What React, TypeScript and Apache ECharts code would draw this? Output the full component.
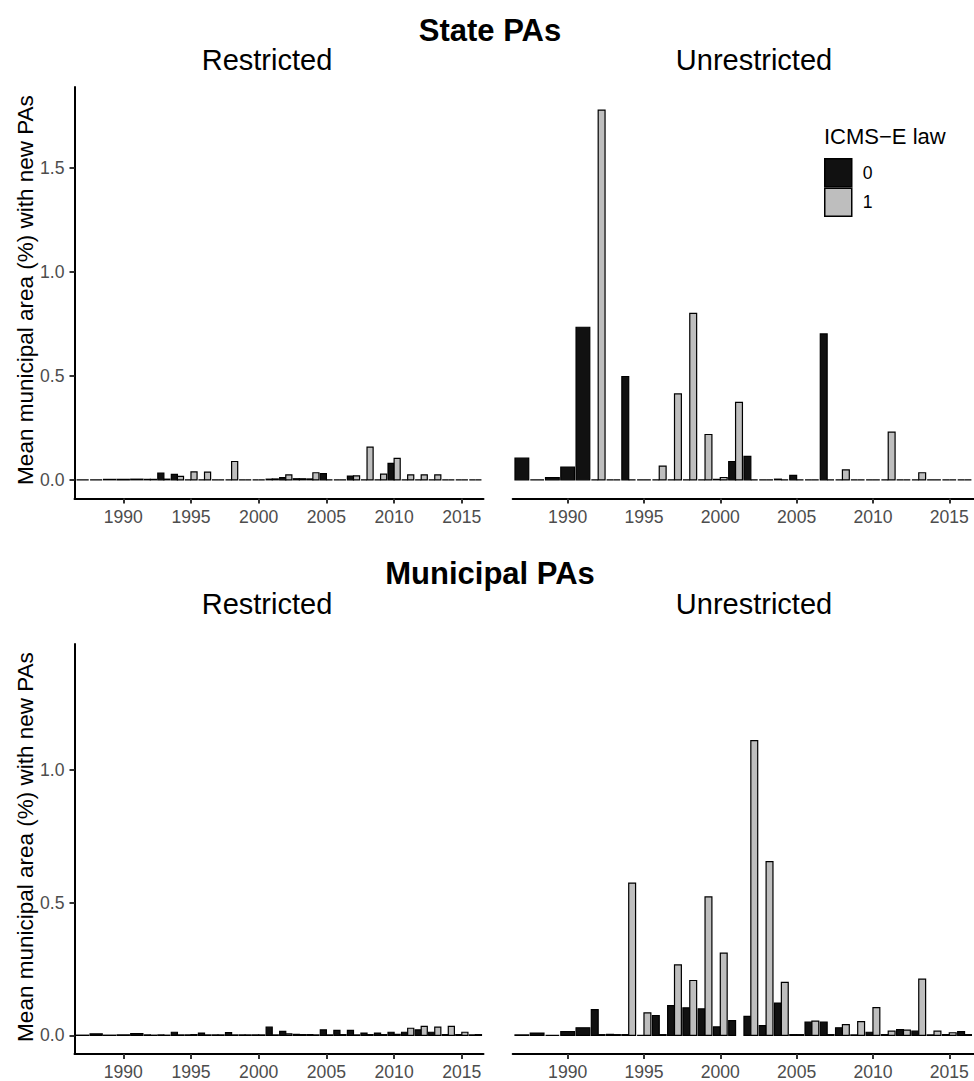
import React, { useEffect, useRef } from "react";
import * as echarts from "echarts";

// ---------- data ----------
const years = [
  1987, 1988, 1989, 1990, 1991, 1992, 1993, 1994, 1995, 1996,
  1997, 1998, 1999, 2000, 2001, 2002, 2003, 2004, 2005, 2006,
  2007, 2008, 2009, 2010, 2011, 2012, 2013, 2014, 2015, 2016,
];
// ICMS-E law group "1" only exists from this year on
const lawStartYear = 1992;

// State PAs – Restricted (group 0: 1987–2016, group 1: 1992–2016)
const stateRestricted0 = [
  0, 0, 0.002, 0.002, 0.003, 0.002, 0.032, 0.026, 0, 0,
  0, 0, 0, 0, 0.003, 0.01, 0.005, 0.004, 0.03, 0,
  0.018, 0, 0, 0.079, 0, 0, 0, 0, 0, 0,
];
const stateRestricted1 = [
  0.002, 0.003, 0.016, 0.038, 0.037, 0, 0.088, 0, 0, 0.004,
  0.024, 0.005, 0.034, 0, 0, 0.019, 0.157, 0.027, 0.103, 0.024,
  0.024, 0.024, 0, 0, 0,
];

// State PAs – Unrestricted
const stateUnrestricted0 = [
  0.104, 0, 0.01, 0.061, 0.734, 0, 0, 0.497, 0, 0,
  0, 0, 0, 0.002, 0.088, 0.113, 0, 0.003, 0.021, 0,
  0.702, 0, 0, 0, 0, 0, 0, 0, 0, 0,
];
const stateUnrestricted1 = [
  1.779, 0, 0, 0, 0.066, 0.413, 0.801, 0.218, 0.011, 0.373,
  0, 0, 0, 0, 0, 0, 0.048, 0, 0, 0.229,
  0, 0.034, 0, 0, 0,
];

// Municipal PAs – Restricted
const municipalRestricted0 = [
  0.001, 0.006, 0.001, 0.002, 0.007, 0.002, 0.002, 0.012, 0.002, 0.009,
  0.002, 0.011, 0.002, 0.002, 0.031, 0.015, 0.004, 0.003, 0.021, 0.019,
  0.019, 0.009, 0.009, 0.012, 0.012, 0.021, 0.012, 0.003, 0.003, 0.002,
];
const municipalRestricted1 = [
  0.001, 0.001, 0.002, 0.003, 0.002, 0.002, 0.002, 0.002, 0.002, 0.002,
  0.006, 0.003, 0.002, 0.002, 0.003, 0.002, 0.003, 0.003, 0.004, 0.027,
  0.034, 0.031, 0.034, 0.012, 0.003,
];

// Municipal PAs – Unrestricted (null = missing value)
const municipalUnrestricted0 = [
  0.002, 0.009, 0, 0.014, 0.029, 0.097, 0.004, 0.003, 0, 0.075,
  0.112, 0.104, 0.1, 0.032, 0.056, 0.072, 0.037, 0.122, 0.003, 0.05,
  0.05, 0.029, 0.002, 0.012, 0.003, 0.022, 0.016, 0.002, 0.003, 0.014,
];
const municipalUnrestricted1 = [
  0.003, 0.003, 0.574, 0.085, 0.003, 0.266, 0.207, 0.522, 0.31, null,
  1.111, 0.655, 0.2, 0.003, 0.054, 0.003, 0.041, 0.052, 0.105, 0.016,
  0.02, 0.212, 0.016, 0.01, 0.003,
];

const xTicks = [1990, 1995, 2000, 2005, 2010, 2015];
const yTicksState = [0, 0.5, 1.0, 1.5];
const yTicksMunicipal = [0, 0.5, 1.0];
const groupNames = ["0", "1"];
const legendTitle = "ICMS\u2212E law";
const yAxisTitle = "Mean municipal area (%) with new PAs";
const rowTitles = ["State PAs", "Municipal PAs"];
const panelTitles = ["Restricted", "Unrestricted"];

// ---------- styling / layout ----------
const FONT = "'Liberation Sans', Arial, Helvetica, sans-serif";
const FILLS = ["#111111", "#BEBEBE"];
const X_MIN = 1986.4;
const X_MAX = 2016.6;
const BAR_WIDTH = 0.9;

type Panel = {
  v0: (number | null)[];
  v1: (number | null)[];
  left: number;
  top: number;
  width: number;
  height: number;
  yMin: number;
  yMax: number;
  yTicks: number[];
  showY: boolean;
};

const panels: Panel[] = [
  { v0: stateRestricted0, v1: stateRestricted1, left: 74.5, top: 87, width: 409, height: 411.5, yMin: -0.09, yMax: 1.89, yTicks: yTicksState, showY: true },
  { v0: stateUnrestricted0, v1: stateUnrestricted1, left: 512.7, top: 87, width: 461, height: 411.5, yMin: -0.09, yMax: 1.89, yTicks: yTicksState, showY: false },
  { v0: municipalRestricted0, v1: municipalRestricted1, left: 74.5, top: 644, width: 409, height: 411, yMin: -0.07, yMax: 1.475, yTicks: yTicksMunicipal, showY: true },
  { v0: municipalUnrestricted0, v1: municipalUnrestricted1, left: 512.7, top: 644, width: 461, height: 411, yMin: -0.07, yMax: 1.475, yTicks: yTicksMunicipal, showY: false },
];

// items: [year, value, slot, nSlots]
function buildItems(v0: (number | null)[], v1: (number | null)[]) {
  const g0: number[][] = [];
  const g1: number[][] = [];
  years.forEach((year, i) => {
    const hasLaw = year >= lawStartYear;
    const n = hasLaw ? 2 : 1;
    const a = v0[i];
    if (a !== null && a !== undefined) g0.push([year, a, 0, n]);
    if (hasLaw) {
      const b = v1[year - lawStartYear];
      if (b !== null && b !== undefined) g1.push([year, b, 1, n]);
    }
  });
  return [g0, g1];
}

function makeRenderItem(fill: string) {
  return (params: any, api: any) => {
    const year = api.value(0);
    const v = api.value(1);
    const slot = api.value(2);
    const n = api.value(3);
    const w = BAR_WIDTH / n;
    const x0 = year - BAR_WIDTH / 2 + (n === 1 ? 0 : slot * w);
    const p0 = api.coord([x0, 0]);
    const p1 = api.coord([x0 + w, v]);
    return {
      type: "rect",
      shape: {
        x: p0[0],
        y: Math.min(p0[1], p1[1]),
        width: p1[0] - p0[0],
        height: Math.abs(p0[1] - p1[1]),
      },
      style: { fill, stroke: "#000", lineWidth: 1.2 },
    };
  };
}

export default function App() {
  const ref = useRef<HTMLDivElement>(null);

  useEffect(() => {
    if (!ref.current) return;
    const chart = echarts.init(ref.current, undefined, { renderer: "svg" });

    const grid = panels.map((p) => ({
      left: p.left,
      top: p.top,
      width: p.width,
      height: p.height,
      containLabel: false,
    }));

    const xAxis = panels.map((p, i) => ({
      type: "value",
      gridIndex: i,
      min: X_MIN,
      max: X_MAX,
      axisLine: { show: true, onZero: false, lineStyle: { color: "#000", width: 2 } },
      axisTick: {
        show: true,
        customValues: xTicks,
        length: 5,
        lineStyle: { color: "#333", width: 2 },
      },
      axisLabel: {
        show: true,
        customValues: xTicks,
        color: "#4D4D4D",
        fontSize: 17.6,
        fontFamily: FONT,
        margin: 9,
        formatter: (v: number) => String(v),
      },
      splitLine: { show: false },
    }));

    const yAxis = panels.map((p, i) => ({
      type: "value",
      gridIndex: i,
      min: p.yMin,
      max: p.yMax,
      show: p.showY,
      axisLine: { show: true, onZero: false, lineStyle: { color: "#000", width: 2 } },
      axisTick: {
        show: true,
        customValues: p.yTicks,
        length: 5,
        lineStyle: { color: "#333", width: 2 },
      },
      axisLabel: {
        show: true,
        customValues: p.yTicks,
        color: "#4D4D4D",
        fontSize: 17.6,
        fontFamily: FONT,
        margin: 10,
        formatter: (v: number) => v.toFixed(1),
      },
      splitLine: { show: false },
    }));

    const series: any[] = [];
    panels.forEach((p, i) => {
      const [g0, g1] = buildItems(p.v0, p.v1);
      [g0, g1].forEach((data, g) => {
        series.push({
          type: "custom",
          name: groupNames[g],
          xAxisIndex: i,
          yAxisIndex: i,
          data,
          encode: { x: 0, y: 1 },
          renderItem: makeRenderItem(FILLS[g]),
          itemStyle: { color: FILLS[g], borderColor: "#000", borderWidth: 1 },
          z: 2,
        });
      });
    });

    const graphic: any[] = [
      { type: "text", x: 490, y: 30, style: { text: rowTitles[0], font: `bold 31px ${FONT}`, fill: "#000", textAlign: "center", textVerticalAlign: "middle" } },
      { type: "text", x: 267, y: 60, style: { text: panelTitles[0], font: `29px ${FONT}`, fill: "#000", textAlign: "center", textVerticalAlign: "middle" } },
      { type: "text", x: 754, y: 60, style: { text: panelTitles[1], font: `29px ${FONT}`, fill: "#000", textAlign: "center", textVerticalAlign: "middle" } },
      { type: "text", x: 490, y: 573, style: { text: rowTitles[1], font: `bold 31px ${FONT}`, fill: "#000", textAlign: "center", textVerticalAlign: "middle" } },
      { type: "text", x: 267, y: 604, style: { text: panelTitles[0], font: `29px ${FONT}`, fill: "#000", textAlign: "center", textVerticalAlign: "middle" } },
      { type: "text", x: 754, y: 604, style: { text: panelTitles[1], font: `29px ${FONT}`, fill: "#000", textAlign: "center", textVerticalAlign: "middle" } },
      { type: "text", x: 25, y: 290, rotation: Math.PI / 2, style: { text: yAxisTitle, font: `22.5px ${FONT}`, fill: "#000", textAlign: "center", textVerticalAlign: "middle" } },
      { type: "text", x: 25, y: 847, rotation: Math.PI / 2, style: { text: yAxisTitle, font: `22.5px ${FONT}`, fill: "#000", textAlign: "center", textVerticalAlign: "middle" } },
      { type: "text", x: 824, y: 136, style: { text: legendTitle, font: `22px ${FONT}`, fill: "#000", textAlign: "left", textVerticalAlign: "middle" } },
    ];

    chart.setOption({
      animation: false,
      backgroundColor: "#fff",
      grid,
      xAxis,
      yAxis,
      series,
      graphic,
      legend: {
        orient: "vertical",
        left: 824,
        top: 158,
        padding: 0,
        itemWidth: 27,
        itemHeight: 28,
        itemGap: 0,
        selectedMode: false,
        icon: "rect",
        data: groupNames.map((name, g) => ({
          name,
          icon: "rect",
          itemStyle: { color: FILLS[g], borderColor: "#000", borderWidth: 1.5 },
        })),
        textStyle: { fontSize: 17.6, color: "#000", fontFamily: FONT, padding: [0, 0, 0, 6] },
      },
    });

    return () => chart.dispose();
  }, []);

  return (
    <div
      ref={ref}
      style={{ position: "absolute", left: 0, top: 0, width: 974, height: 1081, background: "#fff" }}
    />
  );
}
